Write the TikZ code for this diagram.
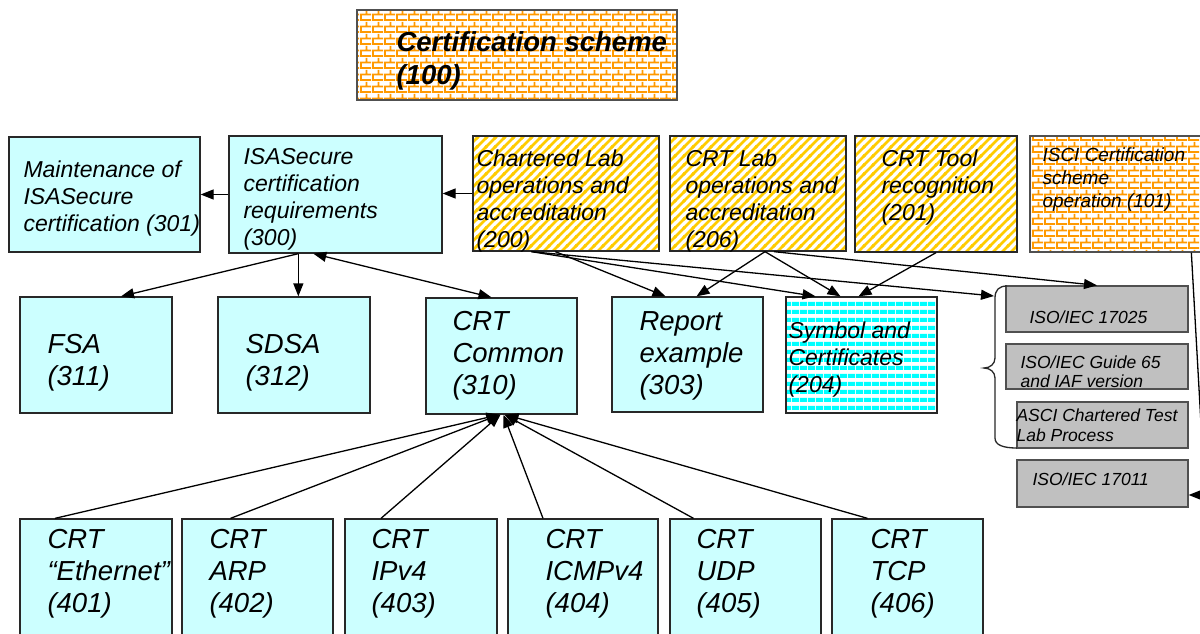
\documentclass[tikz,border=0pt]{standalone}
\usepackage{fontspec}
\setmainfont{Liberation Sans}
\usetikzlibrary{fit,calc,patterns,arrows.meta}
\definecolor{mycyan}{RGB}{204,255,255}
\definecolor{mystripecyan}{RGB}{0,255,255}
\definecolor{mygold}{RGB}{255,204,0}
\definecolor{myorange}{RGB}{255,153,0}
\definecolor{mygray}{RGB}{192,192,192}
\definecolor{myline}{RGB}{40,40,40}
\definecolor{mygrayline}{RGB}{80,80,80}
\pgfdeclarepatternformonly{goldstripes}{\pgfqpoint{-1pt}{-1pt}}{\pgfqpoint{10pt}{10pt}}{\pgfqpoint{9pt}{9pt}}{%
  \pgfsetlinewidth{2.8pt}
  \pgfpathmoveto{\pgfqpoint{-1pt}{-1pt}}\pgfpathlineto{\pgfqpoint{10pt}{10pt}}
  \pgfpathmoveto{\pgfqpoint{-1pt}{8pt}}\pgfpathlineto{\pgfqpoint{1pt}{10pt}}
  \pgfpathmoveto{\pgfqpoint{8pt}{-1pt}}\pgfpathlineto{\pgfqpoint{10pt}{1pt}}
  \pgfusepath{stroke}}
\pgfdeclarepatternformonly{cyanstripes}{\pgfqpoint{0pt}{0pt}}{\pgfqpoint{8pt}{8pt}}{\pgfqpoint{8pt}{8pt}}{%
  \pgfpathrectangle{\pgfqpoint{0pt}{0pt}}{\pgfqpoint{8pt}{4.5pt}}
  \pgfusepath{fill}}
\pgfdeclarepatternformonly{orangebricks}{\pgfqpoint{0pt}{0pt}}{\pgfqpoint{12pt}{12pt}}{\pgfqpoint{12pt}{12pt}}{%
  \pgfpathrectangle{\pgfqpoint{0pt}{0pt}}{\pgfqpoint{12pt}{2pt}}
  \pgfpathrectangle{\pgfqpoint{0pt}{6pt}}{\pgfqpoint{12pt}{2pt}}
  \pgfpathrectangle{\pgfqpoint{0pt}{2pt}}{\pgfqpoint{2pt}{4pt}}
  \pgfpathrectangle{\pgfqpoint{6pt}{8pt}}{\pgfqpoint{2pt}{4pt}}
  \pgfusepath{fill}}
\newcommand\certbox[6][cyanbox]{
  \node[#1, fit={#2 #3}, label={[#4]west:{#5}}] (#6) {};
}

\begin{document}
\begin{tikzpicture}[x=1pt, y=-1pt,
    boxbase/.style={inner sep=0pt, line width=1.3pt, draw=myline},
    cyanbox/.style={boxbase, fill=mycyan},
    goldbox/.style={boxbase, pattern=goldstripes, pattern color=mygold},
    brickbox/.style={boxbase, draw=mygrayline, pattern=orangebricks, pattern color=myorange},
    tealbox/.style={boxbase, pattern=cyanstripes, pattern color=mystripecyan},
    isobox/.style={boxbase, draw=mygrayline, fill=mygray},
    conn/.style={line width=1.3pt, -{Triangle[length=13pt,width=10pt]}},
    bothconn/.style={line width=1.3pt, {Triangle[length=13pt,width=10pt]}-{Triangle[length=13pt,width=10pt]}},
    boxtext/.style={inner sep=0pt, anchor=west, align=left},
    titletext/.style={boxtext, font=\fontsize{27.5}{33}\selectfont\bfseries\itshape},
    bigtext/.style={boxtext, font=\fontsize{27.5}{32}\selectfont\itshape},
    midtext/.style={boxtext, font=\fontsize{23}{27}\selectfont\itshape},
    smalltext/.style={boxtext, font=\fontsize{19}{23}\selectfont\itshape},
    isotext/.style={boxtext, font=\fontsize{17.5}{19.5}\selectfont\itshape},]

    \useasboundingbox (0,0) rectangle (1200,633);
    \fill[white] (0,0) rectangle (1200,633);

    % scheme
    \certbox[brickbox]{(357,10)}{(677,100)}{titletext,xshift=40pt,yshift=-5.5pt}{Certification scheme\\(100)}{s100}

    % second row
    \certbox{(9,137)}{(200,252)}{midtext,xshift=15pt,yshift=-4pt}{Maintenance of\\ISASecure\\certification (301)}{s301}
    \certbox{(229,136)}{(442,253)}{midtext,xshift=15pt,yshift=-4.5pt}{ISASecure\\certification\\requirements\\(300)}{s300}
    \certbox[goldbox]{(473,136)}{(659,251)}{midtext,xshift=4pt,yshift=-7.5pt}{Chartered Lab\\operations and\\accreditation\\(200)}{s200}
    \certbox[goldbox]{(670,136)}{(846,251)}{midtext,xshift=16pt,yshift=-8pt}{CRT Lab\\operations and\\accreditation\\(206)}{s206}
    \certbox[goldbox]{(855,136)}{(1017,252)}{midtext,xshift=27pt,yshift=6.5pt}{CRT Tool\\recognition\\(201)}{s201}
    \certbox[brickbox]{(1030,136)}{(1215,252)}{smalltext,xshift=13pt,yshift=14pt}{ISCI Certification\\scheme\\operation (101)}{s101}

    % third row
    \certbox{(20,297)}{(172,413)}{bigtext,xshift=28pt,yshift=-8pt}{FSA\\(311)}{s311}
    \certbox{(218,297)}{(370,413)}{bigtext,xshift=28pt,yshift=-8pt}{SDSA\\(312)}{s312}
    \certbox{(426,298)}{(577,414)}{bigtext,xshift=27pt}{CRT\\Common\\(310)}{s310}
    \certbox{(612,297)}{(763,412)}{bigtext,xshift=28pt,yshift=-1pt}{Report\\example\\(303)}{s303}
    \certbox[tealbox]{(786,297)}{(937,413)}{midtext,xshift=3pt,yshift=-5pt}{Symbol and\\Certificates\\(204)}{s204}

    % standards
    \certbox[isobox]{(1006,286)}{(1188,332)}{isotext,xshift=24pt,yshift=-8pt}{ISO/IEC 17025}{g17025}
    \certbox[isobox]{(1006,344)}{(1188,389)}{isotext,xshift=15pt,yshift=-5pt}{ISO/IEC Guide 65\\and IAF version}{g65}
    \certbox[isobox]{(1017,402)}{(1188,448)}{isotext,xshift=0pt}{ASCI Chartered Test\\Lab Process}{gasci}
    \certbox[isobox]{(1017,460)}{(1188,507)}{isotext,xshift=16pt,yshift=4pt}{ISO/IEC 17011}{g17011}

    % bottom row
    \certbox{(20,519)}{(172,636)}{bigtext,xshift=28pt,yshift=4pt}{CRT\\“Ethernet”\\(401)}{s401}
    \certbox{(182,519)}{(333,636)}{bigtext,xshift=28pt,yshift=4pt}{CRT\\ARP\\(402)}{s402}
    \certbox{(345,519)}{(497,636)}{bigtext,xshift=27pt,yshift=4pt}{CRT\\IPv4\\(403)}{s403}
    \certbox{(508,519)}{(658,636)}{bigtext,xshift=38pt,yshift=4pt}{CRT\\ICMPv4\\(404)}{s404}
    \certbox{(670,519)}{(821,636)}{bigtext,xshift=27pt,yshift=4pt}{CRT\\UDP\\(405)}{s405}
    \certbox{(832,519)}{(983,636)}{bigtext,xshift=39pt,yshift=4pt}{CRT\\TCP\\(406)}{s406}

    % brace round the standards
    \draw[line width=1.3pt, draw=myline] (1007,286) .. controls (999,286) and (995,290) .. (995,298)
      -- (995,358) .. controls (995,364) and (990,368) .. (984,368)
      .. controls (990,368) and (995,372) .. (995,378)
      -- (995,438) .. controls (995,445) and (1003,448) .. (1017,448);
    \coordinate (bracein) at (994,296);
    \coordinate (edgebend) at (1205,495);

    \draw[conn] (s200.west) -- (s200.west -| s300.east);
    \draw[conn] (s300.west) -- (s300.west -| s301.east);
    \draw[conn] ([xshift=70pt]s300.south west) -- ([xshift=25pt]s311.north);
    \draw[conn] ([xshift=70pt]s300.south west) -- ([xshift=70pt]s300.south west |- s312.north);
    \draw[bothconn] ([xshift=85pt]s300.south west) -- ([xshift=-10pt]s310.north);

    \draw[conn] ([xshift=83pt]s200.south west) -- ([xshift=-22pt]s303.north);
    \draw[conn] ([xshift=59pt]s200.south west) -- ([xshift=-46pt]s204.north);
    \draw[conn] ([xshift=59pt]s200.south west) -- (bracein);
    \draw[conn] ([xshift=7pt]s206.south) -- ([xshift=9pt]s303.north);
    \draw[conn] ([xshift=7pt]s206.south) -- ([xshift=-21pt]s204.north);
    \draw[conn] ([xshift=16pt]s206.south) -- (g17025.north);
    \draw[conn] (s201.south) -- ([xshift=-3pt]s204.north);
    \draw[conn] ([xshift=162pt]s101.south west) -- (edgebend) -- (edgebend -| g17011.east);

    \draw[conn] ([xshift=-41pt]s401.north) -- ([xshift=-2pt]s310.south);
    \draw[conn] ([xshift=-27pt]s402.north) -- ([xshift=-2pt]s310.south);
    \draw[conn] ([xshift=-40pt]s403.north) -- ([xshift=-1pt]s310.south);
    \draw[conn] ([xshift=-40pt]s404.north) -- ([xshift=2pt]s310.south);
    \draw[conn] ([xshift=-52pt]s405.north) -- ([xshift=3pt]s310.south);
    \draw[conn] ([xshift=-40pt]s406.north) -- ([xshift=4pt]s310.south);

\end{tikzpicture}
\end{document}
